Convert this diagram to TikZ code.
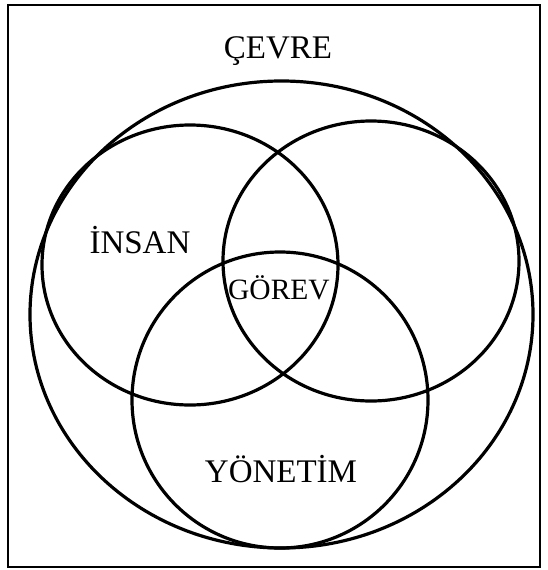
\documentclass[tikz,border=0pt]{standalone}
\usepackage{fontspec}
\setmainfont{Liberation Serif}
\usepackage{tikz}
\usetikzlibrary{positioning}

\begin{document}
\begin{tikzpicture}[x=1pt, y=-1pt,
    setline/.style={line width=3.2pt},
    setlabel/.style={font=\fontsize{33}{36}\selectfont, inner sep=0pt, anchor=base}]
    \useasboundingbox (0,0) rectangle (547,570);
    \draw[line width=2.2pt] (8,5) rectangle (540,567);

    % sets
    \draw[setline] (281.5,314.5) ellipse [x radius=251.5, y radius=233.5];
    \draw[setline] (190,265) ellipse [x radius=148, y radius=140];
    \draw[setline] (371,261) ellipse [x radius=148, y radius=140];
    \draw[setline] (280,400) circle [radius=148];

    % labels
    \node[setlabel] (cevre) at (278,58) {ÇEVRE};
    \node[setlabel] (insan) at (140,253) {İNSAN};
    \node[setlabel, font=\fontsize{29.5}{32}\selectfont] (gorev) at (279,299) {GÖREV};
    \node[setlabel] (yonetim) at (281,482) {YÖNETİM};
\end{tikzpicture}
\end{document}
